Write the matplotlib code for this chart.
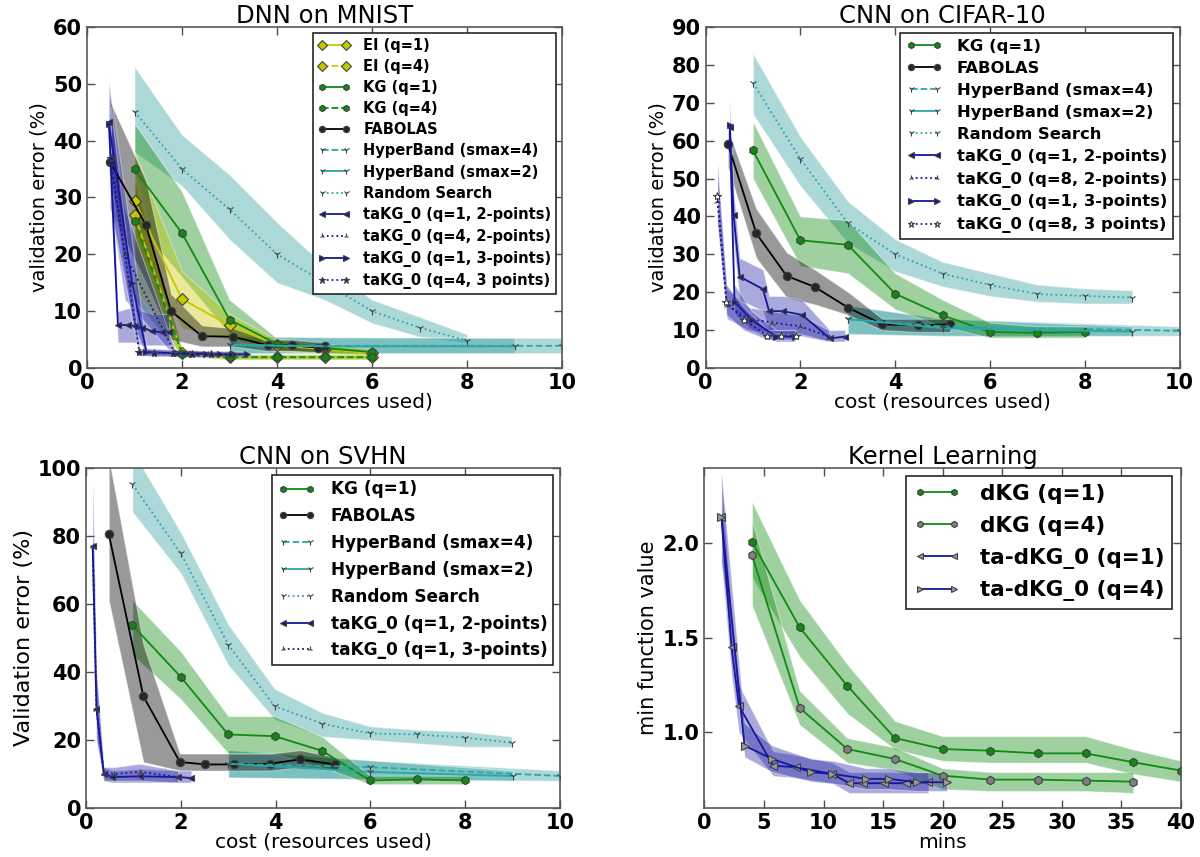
import matplotlib
matplotlib.use("Agg")
import matplotlib.pyplot as plt
import numpy as np

plt.rcParams['font.family'] = ['DejaVu Sans']

# ---------------- DNN on MNIST ----------------
mn_ei1_x = [1, 2, 3, 4, 5, 6]
mn_ei1_y = [29.4, 12.1, 7.5, 4.0, 3.3, 2.6]
mn_ei1_lo = [22, 7, 5, 3, 2.5, 2.0]
mn_ei1_hi = [38, 17, 9.5, 5, 4, 3.2]
mn_ei4_x = [1, 2, 3, 4, 5, 6]
mn_ei4_y = [26.9, 2.6, 1.9, 1.9, 1.9, 1.9]
mn_ei4_lo = [14, 2.0, 1.5, 1.5, 1.5, 1.5]
mn_ei4_hi = [34, 3.5, 2.4, 2.4, 2.4, 2.4]
mn_kg1_x = [1, 2, 3, 4, 5, 6]
mn_kg1_y = [35.0, 23.7, 8.5, 4.2, 3.5, 2.8]
mn_kg1_lo = [26, 16, 6, 3.2, 2.7, 2.2]
mn_kg1_hi = [43, 31, 12, 5.2, 4.3, 3.4]
mn_kg4_x = [1, 2, 3, 4, 5, 6]
mn_kg4_y = [25.9, 2.5, 1.9, 1.9, 1.9, 1.9]
mn_kg4_lo = [12, 2.0, 1.5, 1.5, 1.5, 1.5]
mn_kg4_hi = [33, 3.3, 2.4, 2.4, 2.4, 2.4]
mn_fab_x = [0.48, 1.24, 1.77, 2.42, 3.07, 3.8, 4.32, 4.86, 5.0]
mn_fab_y = [36.3, 25.2, 10.0, 5.6, 5.5, 4.0, 4.0, 3.6, 3.8]
mn_fab_lo = [28, 15, 5, 3.8, 3.8, 3.0, 3.0, 2.8, 2.8]
mn_fab_hi = [47, 33, 13, 7.5, 7, 5, 5, 4.6, 4.6]
mn_hb4_x = [3, 5, 10]
mn_hb4_y = [4.0, 3.9, 3.9]
mn_hb2_x = [3, 5, 9]
mn_hb2_y = [4.1, 3.8, 3.8]
mn_hb_lo = [2.6, 2.6, 2.6]
mn_hb_hi = [5.6, 5.4, 5.3]
mn_rs_x = [1, 2, 3, 4, 5, 6, 7, 8]
mn_rs_y = [45.1, 35.0, 27.9, 20.0, 15.0, 10.0, 7.1, 4.8]
mn_rs_lo = [38, 32, 22.6, 15, 12, 7.9, 5.5, 4.4]
mn_rs_hi = [53, 41, 34, 25.6, 18, 12, 9, 5.9]
mn_t12_x = [0.46, 0.65, 0.87, 1.0, 1.16, 1.37, 1.57, 1.73]
mn_t12_y = [43.2, 7.5, 7.6, 7.4, 7.1, 6.5, 6.3, 6.4]
mn_t12_lo = [36, 4.5, 4.5, 4.5, 4.0, 4.0, 4.0, 4.0]
mn_t12_hi = [51, 10, 10.5, 10.5, 10, 9.5, 9.5, 9.5]
mn_t42_x = [0.5, 0.8, 1.85, 2.05, 2.3, 2.55]
mn_t42_y = [36, 20, 2.6, 2.5, 2.4, 2.4]
mn_t42_lo = [28, 12, 2.0, 2.0, 1.9, 1.9]
mn_t42_hi = [45, 28, 3.2, 3.1, 3.0, 3.0]
mn_t13_x = [0.46, 0.95, 1.25, 1.9, 2.2, 2.5, 2.8, 3.1, 3.36]
mn_t13_y = [43.0, 15, 2.8, 2.6, 2.5, 2.5, 2.4, 2.4, 2.4]
mn_t13_lo = [35, 8, 2.2, 2.1, 2.0, 2.0, 1.9, 1.9, 1.9]
mn_t13_hi = [50, 22, 3.5, 3.2, 3.1, 3.0, 3.0, 2.9, 2.9]
mn_t43_x = [0.5, 1.1, 1.4, 1.8, 2.2, 2.6, 3.0]
mn_t43_y = [37, 2.8, 2.7, 2.6, 2.5, 2.5, 2.4]
mn_t43_lo = [28, 2.2, 2.1, 2.0, 2.0, 2.0, 1.9]
mn_t43_hi = [46, 3.5, 3.3, 3.2, 3.1, 3.0, 3.0]

# ---------------- CNN on CIFAR-10 ----------------
cf_kg_x = [1, 2, 3, 4, 5, 6, 7, 8]
cf_kg_y = [57.4, 33.7, 32.5, 19.6, 13.9, 9.5, 9.3, 9.5]
cf_kg_lo = [50, 27, 25, 15.5, 11, 8, 8, 8]
cf_kg_hi = [65, 40, 39, 25, 18, 12, 11, 11]
cf_fab_x = [0.47, 1.07, 1.71, 2.3, 3.01, 3.73, 4.49, 5.16]
cf_fab_y = [59.1, 35.5, 24.3, 21.4, 15.9, 11.5, 11.3, 11.5]
cf_fab_lo = [53, 29, 18.6, 16.8, 14, 10, 9.5, 9.5]
cf_fab_hi = [63, 42, 30.5, 26, 20, 13, 13, 13]
cf_hb4_x = [3, 5, 10]
cf_hb4_y = [12.9, 11.0, 9.8]
cf_hb2_x = [3, 5, 9]
cf_hb2_y = [12.9, 10.5, 9.6]
cf_hb_lo = [9, 8.5, 8.5]
cf_hb_hi = [16.5, 13, 11]
cf_rs_x = [1, 2, 3, 4, 5, 6, 7, 8, 9]
cf_rs_y = [75.2, 55.2, 38.2, 30.0, 24.9, 21.9, 19.5, 19.0, 18.6]
cf_rs_lo = [67, 48, 33, 25.5, 21.5, 19, 17.5, 17, 17]
cf_rs_hi = [83, 61, 44, 34, 28, 25, 22, 21, 20.5]
cf_t12_x = [0.51, 0.59, 0.72, 1.21, 1.34, 1.63, 2.04, 2.62, 2.94]
cf_t12_y = [63.7, 40.4, 24.1, 20.8, 15.0, 15.0, 14.0, 7.8, 8.3]
cf_t12_lo = [50, 33, 18, 15, 10, 10, 9, 7, 7]
cf_t12_hi = [71, 47, 29, 26, 19, 19, 18, 10, 10]
cf_t82_x = [0.25, 0.45, 0.9, 1.4, 2.0, 2.6]
cf_t82_y = [44, 16.5, 13, 12, 11, 8.3]
cf_t82_lo = [38, 13, 10, 9.5, 8.5, 7]
cf_t82_hi = [53, 21, 16, 15, 14, 10]
cf_t13_x = [0.51, 0.61, 0.97, 1.49, 1.88]
cf_t13_y = [64, 17.5, 12.7, 8.3, 8.3]
cf_t13_lo = [56, 14, 10, 7, 7]
cf_t13_hi = [70, 22, 15, 10, 10]
cf_t83_x = [0.25, 0.44, 0.81, 1.3, 1.6, 1.9]
cf_t83_y = [45.3, 17.4, 12.7, 8.5, 8.5, 8.5]
cf_t83_lo = [38, 14, 10, 7.5, 7.5, 7.5]
cf_t83_hi = [54, 22, 16, 10, 10, 10]

# ---------------- CNN on SVHN ----------------
sv_kg_x = [0.98, 2.0, 3.0, 3.98, 4.98, 5.99, 6.99, 7.99]
sv_kg_y = [53.7, 38.5, 21.6, 21.1, 16.8, 8.1, 8.4, 8.1]
sv_kg_lo = [45, 32, 16, 16, 12, 7, 7, 7]
sv_kg_hi = [61, 46, 27, 27, 21, 9.5, 9.5, 9.5]
sv_fab_x = [0.48, 1.21, 1.98, 2.52, 3.13, 3.88, 4.52, 5.25]
sv_fab_y = [80.5, 32.8, 13.5, 12.8, 12.8, 13.0, 14.3, 12.8]
sv_fab_lo = [61, 13.5, 11, 11, 11, 11, 12, 11]
sv_fab_hi = [103, 48, 16, 16, 16, 16, 17, 15]
sv_hb4_x = [3, 6, 10]
sv_hb4_y = [13, 12, 9.4]
sv_hb2_x = [3, 6, 9]
sv_hb2_y = [13, 10.6, 9.4]
sv_hb_lo = [9, 8.5, 8]
sv_hb_hi = [17, 14, 11]
sv_rs_x = [0.98, 2, 3, 3.98, 4.98, 5.99, 6.99, 7.99, 8.98]
sv_rs_y = [95.1, 74.8, 48.0, 29.9, 24.8, 21.9, 21.6, 20.7, 19.2]
sv_rs_lo = [87, 69, 42, 26, 21, 20, 19, 18, 18]
sv_rs_hi = [105, 81, 54, 35, 28, 24, 23, 22.5, 21]
sv_t12_x = [0.14, 0.22, 0.375, 0.55, 1.13, 1.94, 2.22]
sv_t12_y = [77, 29.2, 10.1, 9.1, 9.3, 9.1, 8.8]
sv_t12_lo = [70, 20, 8, 7.5, 7.5, 7.5, 7.5]
sv_t12_hi = [96, 40, 12, 11, 11.5, 11, 11]
sv_t13_x = [0.14, 0.22, 0.375, 0.6, 1.13, 1.94]
sv_t13_y = [77, 29.2, 10.4, 10.0, 10.6, 9.1]
sv_t13_lo = [70, 20, 8, 8, 8, 7.5]
sv_t13_hi = [96, 40, 12, 12, 13, 11]

# ---------------- Kernel Learning ----------------
kl_q1_x = [4, 8, 12, 16, 20, 24, 28, 32, 36, 40]
kl_q1_y = [2.009, 1.555, 1.246, 0.970, 0.912, 0.903, 0.889, 0.889, 0.842, 0.798]
kl_q1_lo = [1.82, 1.40, 1.10, 0.91, 0.85, 0.84, 0.84, 0.84, 0.78, 0.74]
kl_q1_hi = [2.22, 1.70, 1.36, 1.06, 0.98, 0.98, 0.98, 0.98, 0.91, 0.85]
kl_q4_x = [4, 8, 12, 16, 20, 24, 28, 32, 36]
kl_q4_y = [1.937, 1.129, 0.912, 0.859, 0.771, 0.750, 0.750, 0.745, 0.739]
kl_q4_lo = [1.67, 1.04, 0.84, 0.80, 0.70, 0.69, 0.69, 0.69, 0.68]
kl_q4_hi = [2.12, 1.22, 0.97, 0.92, 0.81, 0.79, 0.79, 0.79, 0.79]
kl_t1_x = [1.43, 2.28, 2.9, 5.77, 7.73, 10.75, 12.16, 13.34, 15.06, 16.93, 18.8]
kl_t1_y = [2.14, 1.45, 1.14, 0.824, 0.815, 0.780, 0.731, 0.731, 0.731, 0.731, 0.736]
kl_t1_lo = [1.9, 1.3, 1.0, 0.77, 0.76, 0.73, 0.68, 0.68, 0.68, 0.68, 0.68]
kl_t1_hi = [2.37, 1.6, 1.25, 0.90, 0.88, 0.84, 0.79, 0.79, 0.79, 0.79, 0.79]
kl_t4_x = [1.43, 3.37, 5.70, 8.98, 10.75, 13.6, 15.5, 17.86, 20.36]
kl_t4_y = [2.14, 0.93, 0.859, 0.789, 0.780, 0.754, 0.754, 0.736, 0.736]
kl_t4_lo = [1.9, 0.87, 0.79, 0.74, 0.73, 0.70, 0.70, 0.69, 0.69]
kl_t4_hi = [2.37, 1.05, 0.93, 0.86, 0.85, 0.81, 0.81, 0.79, 0.79]

# ---------------- styling ----------------
C_Y = '#c8c800'
C_G = '#118a11'
C_K = 'black'
C_C = '#2aa7a7'
C_CB = '#339e9e'
C_B = '#16169a'
C_BB = '#2a2aa8'

fig = plt.figure(figsize=(12, 8.57), dpi=100)
fig.patch.set_facecolor('white')


def band(ax, x, lo, hi, color, alpha=0.4):
    ax.fill_between(x, lo, hi, color=color, alpha=alpha, edgecolor='white', linewidth=0.8)


def line(ax, x, y, color, ls, marker, label, mfc=None, ms=6):
    ax.plot(x, y, color=color, linestyle=ls, marker=marker, label=label,
            markerfacecolor=mfc if mfc else color, markeredgecolor='0.25',
            markeredgewidth=0.8, markersize=ms, linewidth=1.3)


def style(ax, xlim, ylim, xticks, yticks, title, xlabel, ylabel, ylfs=14, ticklabels=None):
    ax.set_xlim(*xlim)
    ax.set_ylim(*ylim)
    ax.set_xticks(xticks)
    ax.set_yticks(yticks)
    if ticklabels is not None:
        ax.set_yticklabels(ticklabels)
    ax.tick_params(direction='in', top=True, right=True, length=6, width=1,
                   labelsize=15, color='0.3')
    for lab in ax.get_xticklabels() + ax.get_yticklabels():
        lab.set_fontweight('bold')
    for s in ax.spines.values():
        s.set_color('0.35')
        s.set_linewidth(1.2)
    ax.set_title(title, fontsize=17.5, pad=3)
    ax.set_xlabel(xlabel, fontsize=14.5, labelpad=0)
    ax.set_ylabel(ylabel, fontsize=ylfs, labelpad=3)


def legend(ax, fs, spacing):
    leg = ax.legend(loc='upper right', numpoints=2, handlelength=2.2,
                    labelspacing=spacing, borderpad=0.35, handletextpad=0.9,
                    fancybox=False, framealpha=1, borderaxespad=0.4, markerscale=0.75,
                    prop={'weight': 'bold', 'size': fs})
    leg.get_frame().set_edgecolor('0.15')
    leg.get_frame().set_linewidth(1.2)
    return leg


# ===== Panel 1: MNIST =====
ax1 = fig.add_axes([0.0725, 0.5706, 0.396, 0.398])
band(ax1, mn_rs_x, mn_rs_lo, mn_rs_hi, C_CB)
band(ax1, mn_hb4_x, mn_hb_lo, mn_hb_hi, C_CB)
band(ax1, mn_hb2_x, mn_hb_lo, mn_hb_hi, C_CB)
band(ax1, mn_kg1_x, mn_kg1_lo, mn_kg1_hi, C_G)
band(ax1, mn_kg4_x, mn_kg4_lo, mn_kg4_hi, C_G)
band(ax1, mn_ei1_x, mn_ei1_lo, mn_ei1_hi, C_Y)
band(ax1, mn_ei4_x, mn_ei4_lo, mn_ei4_hi, C_Y)
band(ax1, mn_fab_x, mn_fab_lo, mn_fab_hi, 'black')
band(ax1, mn_t12_x, mn_t12_lo, mn_t12_hi, C_BB)
band(ax1, mn_t42_x, mn_t42_lo, mn_t42_hi, C_BB)
band(ax1, mn_t13_x, mn_t13_lo, mn_t13_hi, C_BB)
band(ax1, mn_t43_x, mn_t43_lo, mn_t43_hi, C_BB)
line(ax1, mn_ei1_x, mn_ei1_y, C_Y, '-', 'D', 'EI (q=1)', ms=6.5)
line(ax1, mn_ei4_x, mn_ei4_y, C_Y, '--', 'D', 'EI (q=4)', ms=6.5)
line(ax1, mn_kg1_x, mn_kg1_y, C_G, '-', 'h', 'KG (q=1)')
line(ax1, mn_kg4_x, mn_kg4_y, C_G, '--', 'h', 'KG (q=4)')
line(ax1, mn_fab_x, mn_fab_y, C_K, '-', 'o', 'FABOLAS', mfc='0.15')
line(ax1, mn_hb4_x, mn_hb4_y, C_C, '--', '1', 'HyperBand (smax=4)', mfc=C_C)
line(ax1, mn_hb2_x, mn_hb2_y, C_C, '-', '1', 'HyperBand (smax=2)', mfc=C_C)
line(ax1, mn_rs_x, mn_rs_y, C_C, ':', '1', 'Random Search', mfc=C_C)
line(ax1, mn_t12_x, mn_t12_y, C_B, '-', '<', 'taKG_0 (q=1, 2-points)', ms=5)
line(ax1, mn_t42_x, mn_t42_y, C_B, ':', '2', 'taKG_0 (q=4, 2-points)', ms=5)
line(ax1, mn_t13_x, mn_t13_y, C_B, '-', '>', 'taKG_0 (q=1, 3-points)', ms=5)
line(ax1, mn_t43_x, mn_t43_y, C_B, ':', '*', 'taKG_0 (q=4, 3 points)', ms=6)
style(ax1, (0, 10), (0, 60), range(0, 11, 2), range(0, 61, 10), 'DNN on MNIST',
      'cost (resources used)', 'validation error (%)')
legend(ax1, 10.5, 0.42)

# ===== Panel 2: CIFAR =====
ax2 = fig.add_axes([0.588, 0.5706, 0.395, 0.398])
band(ax2, cf_rs_x, cf_rs_lo, cf_rs_hi, C_CB)
band(ax2, cf_hb4_x, cf_hb_lo, cf_hb_hi, C_CB)
band(ax2, cf_hb2_x, cf_hb_lo, cf_hb_hi, C_CB)
band(ax2, cf_kg_x, cf_kg_lo, cf_kg_hi, C_G)
band(ax2, cf_fab_x, cf_fab_lo, cf_fab_hi, 'black')
band(ax2, cf_t12_x, cf_t12_lo, cf_t12_hi, C_BB)
band(ax2, cf_t82_x, cf_t82_lo, cf_t82_hi, C_BB)
band(ax2, cf_t13_x, cf_t13_lo, cf_t13_hi, C_BB)
band(ax2, cf_t83_x, cf_t83_lo, cf_t83_hi, C_BB)
line(ax2, cf_kg_x, cf_kg_y, C_G, '-', 'h', 'KG (q=1)')
line(ax2, cf_fab_x, cf_fab_y, C_K, '-', 'o', 'FABOLAS', mfc='0.15')
line(ax2, cf_hb4_x, cf_hb4_y, C_C, '--', '1', 'HyperBand (smax=4)', mfc=C_C)
line(ax2, cf_hb2_x, cf_hb2_y, C_C, '-', '1', 'HyperBand (smax=2)', mfc=C_C)
line(ax2, cf_rs_x, cf_rs_y, C_C, ':', '1', 'Random Search', mfc=C_C)
line(ax2, cf_t12_x, cf_t12_y, C_B, '-', '<', 'taKG_0 (q=1, 2-points)', ms=5)
line(ax2, cf_t82_x, cf_t82_y, C_B, ':', '2', 'taKG_0 (q=8, 2-points)', ms=5)
line(ax2, cf_t13_x, cf_t13_y, C_B, '-', '>', 'taKG_0 (q=1, 3-points)', ms=5)
line(ax2, cf_t83_x, cf_t83_y, C_B, ':', '*', 'taKG_0 (q=8, 3 points)', mfc='white', ms=6)
style(ax2, (0, 10), (0, 90), range(0, 11, 2), range(0, 91, 10), 'CNN on CIFAR-10',
      'cost (resources used)', 'validation error (%)')
legend(ax2, 11.8, 0.42)

# ===== Panel 3: SVHN =====
ax3 = fig.add_axes([0.0717, 0.0572, 0.395, 0.397])
band(ax3, sv_rs_x, sv_rs_lo, sv_rs_hi, C_CB)
band(ax3, sv_hb4_x, sv_hb_lo, sv_hb_hi, C_CB)
band(ax3, sv_hb2_x, sv_hb_lo, sv_hb_hi, C_CB)
band(ax3, sv_kg_x, sv_kg_lo, sv_kg_hi, C_G)
band(ax3, sv_fab_x, sv_fab_lo, sv_fab_hi, 'black')
band(ax3, sv_t12_x, sv_t12_lo, sv_t12_hi, C_BB)
band(ax3, sv_t13_x, sv_t13_lo, sv_t13_hi, C_BB)
line(ax3, sv_kg_x, sv_kg_y, C_G, '-', 'h', 'KG (q=1)')
line(ax3, sv_fab_x, sv_fab_y, C_K, '-', 'o', 'FABOLAS', mfc='0.15')
line(ax3, sv_hb4_x, sv_hb4_y, C_C, '--', '1', 'HyperBand (smax=4)', mfc=C_C)
line(ax3, sv_hb2_x, sv_hb2_y, C_C, '-', '1', 'HyperBand (smax=2)', mfc=C_C)
line(ax3, sv_rs_x, sv_rs_y, C_C, ':', '1', 'Random Search', mfc=C_C)
line(ax3, sv_t12_x, sv_t12_y, C_B, '-', '<', 'taKG_0 (q=1, 2-points)', ms=5)
line(ax3, sv_t13_x, sv_t13_y, C_B, ':', '2', 'taKG_0 (q=1, 3-points)', ms=5)
style(ax3, (0, 10), (0, 100), range(0, 11, 2), range(0, 101, 20), 'CNN on SVHN',
      'cost (resources used)', 'Validation error (%)', ylfs=16)
legend(ax3, 12.2, 0.52)

# ===== Panel 4: Kernel Learning =====
ax4 = fig.add_axes([0.587, 0.0572, 0.397, 0.397])
band(ax4, kl_q1_x, kl_q1_lo, kl_q1_hi, C_G)
band(ax4, kl_q4_x, kl_q4_lo, kl_q4_hi, C_G)
band(ax4, kl_t1_x, kl_t1_lo, kl_t1_hi, C_BB)
band(ax4, kl_t4_x, kl_t4_lo, kl_t4_hi, C_BB)
line(ax4, kl_q1_x, kl_q1_y, C_G, '-', 'h', 'dKG (q=1)')
line(ax4, kl_q4_x, kl_q4_y, C_G, '-', 'h', 'dKG (q=4)', mfc='0.5')
line(ax4, kl_t1_x, kl_t1_y, C_B, '-', '<', 'ta-dKG_0 (q=1)', mfc='0.6', ms=6)
line(ax4, kl_t4_x, kl_t4_y, C_B, '-', '>', 'ta-dKG_0 (q=4)', mfc='0.6', ms=6)
style(ax4, (0, 40), (0.6, 2.4), range(0, 41, 5), [1.0, 1.5, 2.0], 'Kernel Learning',
      'mins', 'min function value', ylfs=15, ticklabels=['1.0', '1.5', '2.0'])
legend(ax4, 15.5, 0.55)

fig.savefig('out.png', dpi=100, facecolor='white')
